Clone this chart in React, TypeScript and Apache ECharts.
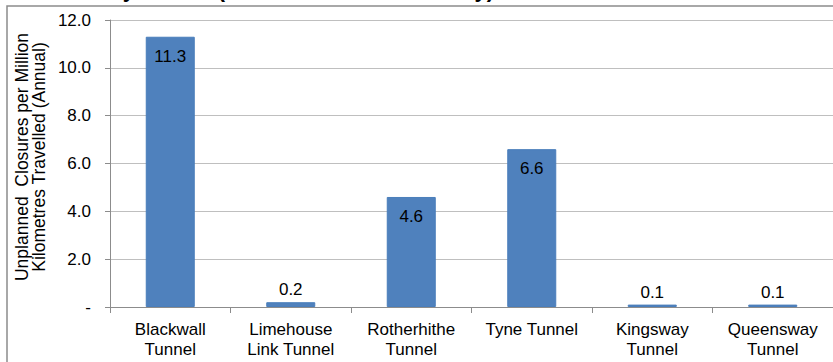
import React, { useEffect, useRef } from "react";
import * as echarts from "echarts";

const categories = [
  "Blackwall\nTunnel",
  "Limehouse\nLink Tunnel",
  "Rotherhithe\nTunnel",
  "Tyne Tunnel",
  "Kingsway\nTunnel",
  "Queensway\nTunnel",
];
const closures = [11.3, 0.2, 4.6, 6.6, 0.1, 0.1];
const yTicks = { min: 0, max: 12, interval: 2 };
const yAxisTitle = "Unplanned  Closures per Million\nKilometres Travelled (Annual)";
const clippedTitle = "Unplanned Closures by Tunnel (all incidents and severity)";

const FONT = "'Liberation Sans', Arial, sans-serif";

export default function App() {
  const ref = useRef<HTMLDivElement>(null);
  useEffect(() => {
    document.body.style.margin = "0";
    const chart = echarts.init(ref.current!, null, { renderer: "svg" });
    chart.setOption({
      animation: false,
      backgroundColor: "#ffffff",
      textStyle: { fontFamily: FONT },
      graphic: [
        {
          type: "rect",
          shape: { x: 7, y: 6, width: 900, height: 400 },
          style: { fill: "none", stroke: "#8c8c8c", lineWidth: 1.5 },
          silent: true,
        },
        {
          type: "text",
          x: 494,
          y: 0,
          style: {
            text: clippedTitle,
            font: `bold 22px ${FONT}`,
            fill: "#000000",
            align: "right",
            verticalAlign: "bottom",
          },
          silent: true,
        },
        {
          type: "text",
          x: 30,
          y: 157,
          rotation: Math.PI / 2,
          style: {
            text: yAxisTitle,
            font: `17.5px ${FONT}`,
            fill: "#000000",
            align: "center",
            verticalAlign: "middle",
            lineHeight: 17,
          },
          silent: true,
        },
      ],
      grid: { left: 110, top: 20, width: 734, height: 287, containLabel: false },
      xAxis: {
        type: "category",
        data: categories,
        axisLine: { show: true, lineStyle: { color: "#8c8c8c", width: 1 } },
        axisTick: { show: true, alignWithLabel: false, length: 6, lineStyle: { color: "#8c8c8c" } },
        axisLabel: {
          color: "#000000",
          fontSize: 17,
          fontFamily: FONT,
          lineHeight: 20,
          margin: 12,
          interval: 0,
        },
      },
      yAxis: {
        type: "value",
        min: yTicks.min,
        max: yTicks.max,
        interval: yTicks.interval,
        axisLine: { show: true, lineStyle: { color: "#8c8c8c", width: 1 } },
        axisTick: { show: true, length: 5, lineStyle: { color: "#8c8c8c" } },
        splitLine: { show: true, lineStyle: { color: "#bfbfbf", width: 1 } },
        axisLabel: {
          color: "#000000",
          fontSize: 17,
          fontFamily: FONT,
          margin: 19,
          formatter: (v: number) => (v === 0 ? "-" : v.toFixed(1)),
        },
      },
      series: [
        {
          type: "bar",
          data: closures.map((v) => ({
            value: v,
            label: v >= 1
              ? { position: "insideTop", distance: 11 }
              : { position: "top", distance: 4 },
          })),
          barWidth: 49,
          itemStyle: { color: "#4f81bd", borderColor: "#4a7ebb", borderWidth: 1 },
          label: {
            show: true,
            color: "#000000",
            fontSize: 17,
            fontFamily: FONT,
            formatter: (p: any) => Number(p.value).toFixed(1),
          },
        },
      ],
    });
    return () => chart.dispose();
  }, []);
  return <div ref={ref} style={{ width: 833, height: 362 }} />;
}
